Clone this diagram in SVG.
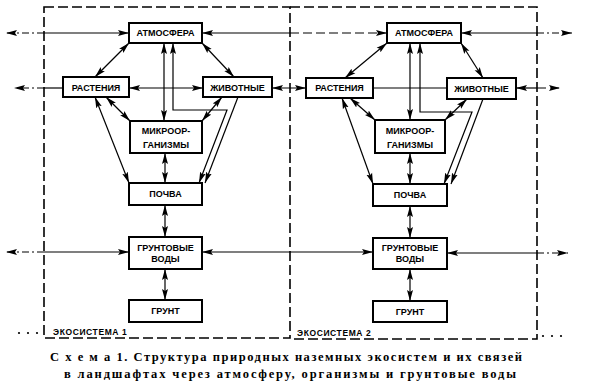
<svg xmlns="http://www.w3.org/2000/svg" width="594" height="384" viewBox="0 0 594 384">
<style>
.bg{fill:#fff}
.eco{fill:none;stroke:#000;stroke-width:1.6;stroke-dasharray:10 4}
.box{fill:#fff;stroke:#000;stroke-width:2}
.lbl{font-family:"Liberation Sans",Arial,sans-serif;font-weight:bold;font-size:9px;fill:#000;text-anchor:middle;dominant-baseline:central}
.eco-lbl{font-family:"Liberation Sans",Arial,sans-serif;font-weight:bold;font-size:8.5px;fill:#000;letter-spacing:0.6px}
.c{fill:none;stroke:#000;stroke-width:1.2}
.dd{stroke-dasharray:7 3 2 3}
.ds{stroke-dasharray:9 4}
.a2{marker-start:url(#ah);marker-end:url(#ah)}
.ae{marker-end:url(#ah)}
.as{marker-start:url(#ah)}
.cap{font-family:"Liberation Serif","Times New Roman",serif;font-weight:bold;font-size:12.5px;fill:#000;text-anchor:middle}
.dot{fill:#000}
</style>
<defs>
<marker id="ah" viewBox="0 0 11 7" refX="11" refY="3.5" markerWidth="11" markerHeight="7" markerUnits="userSpaceOnUse" orient="auto-start-reverse">
<path d="M0,0.5 L11,3.5 L0,6.5 L2,3.5 z" fill="#000"/>
</marker>
</defs>
<rect class="bg" x="0" y="0" width="594" height="384"/>

<g id="ecosystem1-frame">
<path class="eco" d="M44,7 H290 V338 H44 Z"/>
<text class="eco-lbl" x="53" y="335">ЭКОСИСТЕМА 1</text>
</g>
<g id="ecosystem2-frame">
<path class="eco" d="M290,7 H537 V339 H290"/>
<text class="eco-lbl" x="297" y="336">ЭКОСИСТЕМА 2</text>
</g>

<g id="connectors">
<path class="c ae" d="M44,33 H129"/>
<path class="c dd ae" d="M44,33 H6"/>
<path class="c as" d="M202,33 H290"/>
<path class="c ds ae" d="M290,33 H387"/>
<path class="c" d="M44,88 H63"/>
<path class="c dd ae" d="M44,88 H14"/>
<path class="c a2" d="M129,88 H203"/>
<path class="c a2" d="M272,88 H306"/>
<path class="c ae" d="M44,252 H129"/>
<path class="c dd ae" d="M44,252 H6"/>
<path class="c a2" d="M202,252 H373"/>
<path class="c a2" d="M129,43 L95,77"/>
<path class="c a2" d="M202,43 L234,77"/>
<path class="c a2" d="M164,43 V121"/>
<path class="c a2" d="M173,43 V110 H227 L199,183"/>
<path class="c ae" d="M238,97 L205,183"/>
<path class="c a2" d="M222,97 L202,121"/>
<path class="c a2" d="M106,97 L130,121"/>
<path class="c a2" d="M95,97 L129,183"/>
<path class="c a2" d="M165,153 V183"/>
<path class="c a2" d="M165,205 V237"/>
<path class="c a2" d="M165,269 V300"/>
<path class="c as" d="M461,33 H537"/>
<path class="c dd ae" d="M537,33 H572"/>
<path class="c" d="M373,88 H447"/>
<path class="c as" d="M516,88 H537"/>
<path class="c ds ae" d="M537,88 H560"/>
<path class="c as" d="M447,253 H537"/>
<path class="c dd ae" d="M537,253 H568"/>
<path class="c a2" d="M387,43 L345,78"/>
<path class="c a2" d="M461,43 L483,78"/>
<path class="c a2" d="M410,43 V120"/>
<path class="c a2" d="M420,43 V112 H472 L444,184"/>
<path class="c ae" d="M483,99 L451,184"/>
<path class="c a2" d="M467,99 L445,120"/>
<path class="c a2" d="M350,98 L375,120"/>
<path class="c a2" d="M342,98 L373,184"/>
<path class="c a2" d="M410,153 V184"/>
<path class="c a2" d="M410,206 V238"/>
<path class="c a2" d="M410,269 V301"/>
</g>

<g id="atm1"><rect class="box" x="129" y="23" width="73" height="20"/><text class="lbl" x="165.5" y="33">АТМОСФЕРА</text></g>
<g id="rast1"><rect class="box" x="63" y="77" width="66" height="20"/><text class="lbl" x="96" y="87.5">РАСТЕНИЯ</text></g>
<g id="zhiv1"><rect class="box" x="203" y="77" width="69" height="20"/><text class="lbl" x="237.5" y="87.5">ЖИВОТНЫЕ</text></g>
<g id="micro1"><rect class="box" x="130" y="121" width="72" height="32"/><text class="lbl" x="166" y="131">МИКРООР-</text><text class="lbl" x="166" y="145">ГАНИЗМЫ</text></g>
<g id="pochva1"><rect class="box" x="129" y="183" width="73" height="22"/><text class="lbl" x="165.5" y="194">ПОЧВА</text></g>
<g id="gv1"><rect class="box" x="129" y="237" width="73" height="32"/><text class="lbl" x="165.5" y="248">ГРУНТОВЫЕ</text><text class="lbl" x="165.5" y="259">ВОДЫ</text></g>
<g id="grunt1"><rect class="box" x="129" y="300" width="73" height="22"/><text class="lbl" x="165.5" y="311">ГРУНТ</text></g>

<g id="atm2"><rect class="box" x="387" y="23" width="74" height="20"/><text class="lbl" x="424" y="33">АТМОСФЕРА</text></g>
<g id="rast2"><rect class="box" x="306" y="78" width="67" height="20"/><text class="lbl" x="339.5" y="88">РАСТЕНИЯ</text></g>
<g id="zhiv2"><rect class="box" x="447" y="78" width="69" height="21"/><text class="lbl" x="481.5" y="88.5">ЖИВОТНЫЕ</text></g>
<g id="micro2"><rect class="box" x="375" y="120" width="70" height="33"/><text class="lbl" x="410" y="131">МИКРООР-</text><text class="lbl" x="410" y="145">ГАНИЗМЫ</text></g>
<g id="pochva2"><rect class="box" x="373" y="184" width="74" height="22"/><text class="lbl" x="410" y="195">ПОЧВА</text></g>
<g id="gv2"><rect class="box" x="373" y="238" width="74" height="31"/><text class="lbl" x="410" y="248">ГРУНТОВЫЕ</text><text class="lbl" x="410" y="259">ВОДЫ</text></g>
<g id="grunt2"><rect class="box" x="373" y="301" width="74" height="21"/><text class="lbl" x="410" y="311.5">ГРУНТ</text></g>

<g id="dots">
<circle class="dot" cx="19" cy="333" r="1.1"/><circle class="dot" cx="28" cy="333" r="1.1"/><circle class="dot" cx="37" cy="333" r="1.1"/>
<circle class="dot" cx="543" cy="336" r="1.1"/><circle class="dot" cx="552" cy="336" r="1.1"/><circle class="dot" cx="561" cy="336" r="1.1"/>
</g>

<g id="caption">
<text class="cap" x="286" y="361" textLength="472" lengthAdjust="spacing">С х е м а  1.  Структура  природных  наземных  экосистем  и  их  связей</text>
<text class="cap" x="290" y="378" textLength="452" lengthAdjust="spacing">в  ландшафтах  через  атмосферу,  организмы  и  грунтовые  воды</text>
</g>
</svg>
